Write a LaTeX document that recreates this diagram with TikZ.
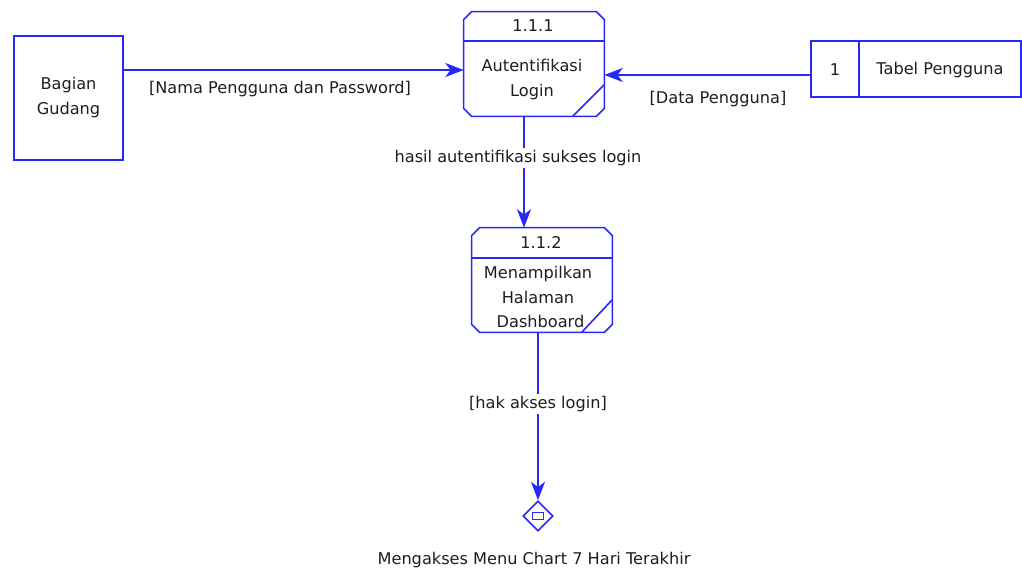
\documentclass[tikz,border=0pt]{standalone}
\usepackage{fontspec}
\setmainfont{DejaVu Sans}
\usetikzlibrary{shapes.geometric,arrows.meta}
\definecolor{garisbiru}{RGB}{40,40,250}
\definecolor{teksgelap}{RGB}{30,30,30}
% kotak proses dengan sudut terpotong
\newcommand{\kotakproses}[1]{%
  \draw[garisbiru, line width=0.9pt]
    ([xshift=0.16cm]#1.north west) -- ([xshift=-0.16cm]#1.north east)
    -- ([yshift=-0.16cm]#1.north east) -- ([yshift=0.16cm]#1.south east)
    -- ([xshift=-0.16cm]#1.south east) -- ([xshift=0.16cm]#1.south west)
    -- ([yshift=0.16cm]#1.south west) -- ([yshift=-0.16cm]#1.north west) -- cycle;}

\begin{document}
\begin{tikzpicture}[x=0.02cm,y=-0.02cm,
  font=\fontsize{9.2}{14.2}\selectfont, text=teksgelap,
  entitas/.style={draw=garisbiru, line width=0.9pt, minimum width=2.18cm, minimum height=2.48cm, align=center},
  proses/.style={minimum width=2.8cm, minimum height=2.08cm, inner sep=0pt},
  simpanan/.style={draw=garisbiru, line width=0.9pt, minimum width=4.2cm, minimum height=1.12cm, inner sep=0pt},
  aliran/.style={garisbiru, line width=0.9pt, -{Stealth[length=10.5pt,width=8pt,inset=3pt]}},
  label/.style={fill=white, inner sep=1pt}]
\useasboundingbox (0,0) rectangle (1022,570);
% entitas luar
\node[entitas] (gudang) at (68.5,98) {Bagian\\Gudang};
% proses 1.1.1
\node[proses] (p1) at (534,64) {};
\kotakproses{p1}
\draw[garisbiru, line width=0.9pt] (464,41) -- (604,41);
\draw[garisbiru, line width=0.9pt] (573,116) -- (604,85);
\node (p1no) at (533,26) {1.1.1};
\node[align=center] (p1isi) at (532,79.5) {Autentifikasi\\Login};
% proses 1.1.2
\node[proses] (p2) at (542,280) {};
\kotakproses{p2}
\draw[garisbiru, line width=0.9pt] (472,258) -- (612,258);
\draw[garisbiru, line width=0.9pt] (582,332) -- (612,300);
\node (p2no) at (541,243) {1.1.2};
\node[align=center] (p2isi) at (538,297) {Menampilkan\\Halaman\\\hspace*{0.1cm}Dashboard};
% data store
\node[simpanan] (tabel) at (916,69) {};
\draw[garisbiru, line width=0.9pt] (859,41) -- (859,97);
\node (tabelno) at (835,70) {1};
\node (tabelnama) at (940,70) {Tabel Pengguna};
% keluaran
\node[diamond, draw=garisbiru, line width=0.9pt, minimum size=0.6cm, inner sep=0pt] (keluar) at (538,516) {};
\draw[garisbiru, line width=0.9pt] (532.5,512.5) rectangle (543.5,519.5);
\node (keluarteks) at (534,560) {Mengakses Menu Chart 7 Hari Terakhir};
% aliran data
\draw[aliran] (gudang.east |- 0,70) -- (p1.west |- 0,70);
\node (l1) at (280,89) {[Nama Pengguna dan Password]};
\draw[aliran] (tabel.west |- 0,75) -- (p1.east |- 0,75);
\node (l2) at (718,99) {[Data Pengguna]};
\draw[aliran] (p1.south -| 524,0) -- (p2.north -| 524,0);
\node[label] (l3) at (518,158) {hasil autentifikasi sukses login};
\draw[aliran] (p2.south -| keluar.north) -- (keluar.north);
\node[label] (l4) at (538,404) {[hak akses login]};
\end{tikzpicture}
\end{document}
